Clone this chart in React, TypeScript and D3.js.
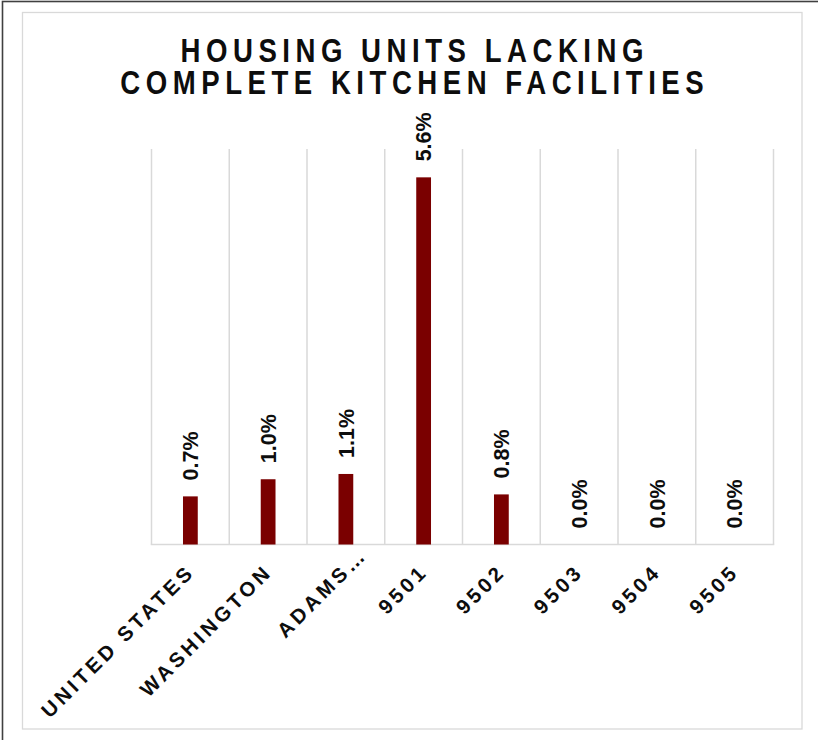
import React from "react";
import * as d3 from "d3";

const titleLines = ["HOUSING UNITS LACKING", "COMPLETE KITCHEN FACILITIES"];
const categories = ["UNITED STATES", "WASHINGTON", "ADAMS…", "9501", "9502", "9503", "9504", "9505"];
const values = [0.73, 0.99, 1.07, 5.57, 0.76, 0, 0, 0];
const yDomainMax = 6;

const W = 818;
const H = 740;
const plotLeft = 151.5;
const plotRight = 773.5;
const plotTop = 149;
const plotBottom = 544.5;
const FONT = "'Liberation Sans', Arial, Helvetica, sans-serif";

export default function App() {
  const x = d3.scaleBand<string>().domain(categories).range([plotLeft, plotRight]).paddingInner(0).paddingOuter(0);
  const y = d3.scaleLinear().domain([0, yDomainMax]).range([plotBottom, plotTop]);
  const fmt = d3.format(".1f");
  const bw = x.bandwidth();
  const barW = bw * 0.19;
  const boundaries = d3.range(categories.length + 1).map((i) => plotLeft + i * bw);
  const labelFont = 21.5;
  const labelCap = labelFont * 0.716;
  const xlFont = 20.5;
  const xlSpacing = 3.6;
  const titleSpacing = 6;

  return (
    <svg
      width={W}
      height={H}
      style={{ position: "absolute", left: 0, top: 0, background: "#fff" }}
      fontFamily={FONT}
    >
      <rect x={0} y={0} width={W} height={H} fill="#fff" />
      <rect x={2.5} y={1.5} width={W + 20} height={H + 20} fill="none" stroke="#404040" strokeWidth={1.6} />
      <rect x={22.5} y={12.5} width={779.5} height={716.5} fill="none" stroke="#d9d9d9" strokeWidth={1.3} />

      {titleLines.map((t, i) => (
        <g key={t} transform={`translate(${412 + titleSpacing * 0.46},${61.5 + i * 32.4}) scale(0.92,1.08)`}>
          <text
            x={0}
            y={0}
            textAnchor="middle"
            fontSize={30}
            fontWeight="bold"
            letterSpacing={titleSpacing}
            fill="#0d0d0d"
          >
            {t}
          </text>
        </g>
      ))}

      {boundaries.map((bx, i) => (
        <line key={"g" + i} x1={bx} x2={bx} y1={plotTop} y2={plotBottom} stroke="#d9d9d9" strokeWidth={1.5} />
      ))}
      <line x1={plotLeft - 0.75} x2={plotRight + 0.75} y1={plotBottom} y2={plotBottom} stroke="#d9d9d9" strokeWidth={1.5} />

      {categories.map((c, i) => {
        const cx = (x(c) as number) + bw / 2;
        const top = y(values[i]);
        return (
          <g key={c}>
            {values[i] > 0 && (
              <rect x={cx - barW / 2} y={top} width={barW} height={plotBottom - top} fill="#7a0000" />
            )}
            <text
              transform={`translate(${cx + labelCap / 2},${top - 16}) rotate(-90)`}
              textAnchor="start"
              fontSize={labelFont}
              fontWeight="bold"
              fill="#0d0d0d"
            >
              {fmt(values[i]) + "%"}
            </text>
          </g>
        );
      })}

      {categories.map((c) => {
        const cx = (x(c) as number) + bw / 2;
        const ax = cx + 5.5;
        const ay = plotBottom + 28.5;
        const truncated = c.endsWith("…");
        const stem = truncated ? c.slice(0, -1) : c;
        return (
          <g key={"xl" + c} transform={`translate(${ax},${ay}) rotate(-45)`}>
            <text textAnchor="end" fontSize={xlFont} fontWeight="bold" letterSpacing={xlSpacing} fill="#0d0d0d">
              {stem}
            </text>
            {truncated && (
              <text x={0} textAnchor="start" fontSize={xlFont} fontWeight="bold" letterSpacing={0} fill="#0d0d0d">
                …
              </text>
            )}
          </g>
        );
      })}
    </svg>
  );
}
